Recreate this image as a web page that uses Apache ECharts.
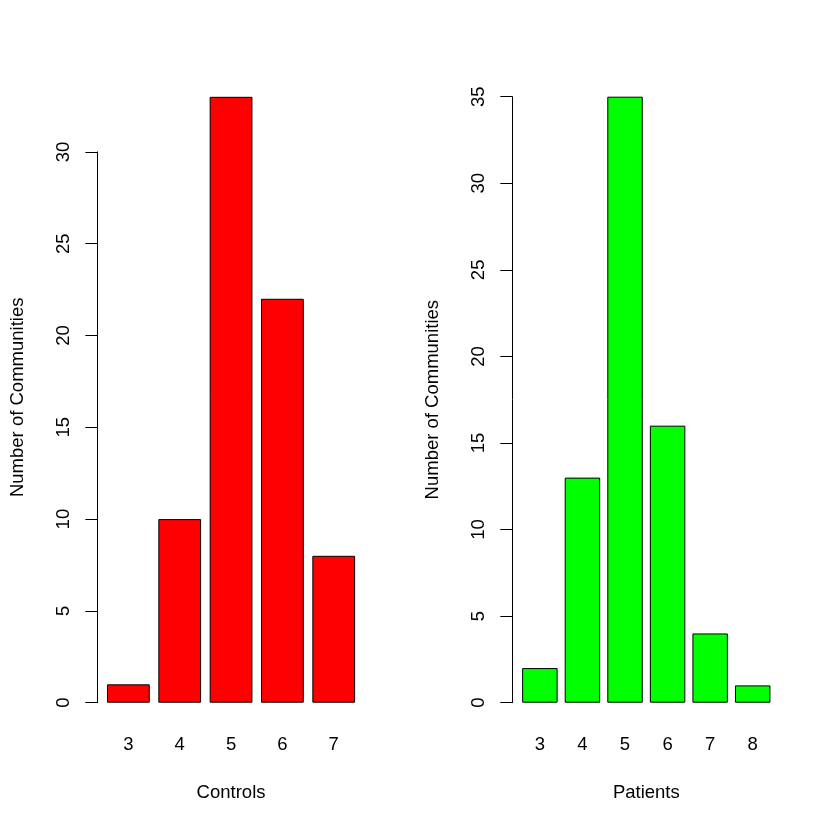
<!DOCTYPE html>
<html>
<head>
<meta charset="utf-8">
<script src="https://cdn.jsdelivr.net/npm/echarts@6/dist/echarts.min.js"></script>
<style>html,body{margin:0;padding:0;background:#fff;}#c{width:830px;height:830px;}</style>
</head>
<body>
<div id="c"></div>
<script>
const controlsCats = ['3', '4', '5', '6', '7'];
const controlsVals = [1, 10, 33, 22, 8];
const patientsCats = ['3', '4', '5', '6', '7', '8'];
const patientsVals = [2, 13, 35, 16, 4, 1];
const yTitle = 'Number of Communities';
const xTitles = ['Controls', 'Patients'];

const FONT = 'Liberation Sans, Arial, Helvetica, sans-serif';
const FS = 18.5;
const txt = { color: '#000', fontFamily: FONT, fontSize: FS };

function xAxisFor(cats, gridIndex, name) {
  return {
    type: 'category', gridIndex, data: cats, boundaryGap: true,
    axisLine: { show: false, onZero: false }, axisTick: { show: false },
    axisLabel: Object.assign({ margin: 33, interval: 0 }, txt),
    name, nameLocation: 'middle', nameGap: 81,
    nameTextStyle: Object.assign({}, txt)
  };
}
function yAxisFor(gridIndex, max, offset, namePad) {
  return {
    type: 'value', gridIndex, min: 0, max, interval: 5, offset,
    splitLine: { show: false },
    axisLine: { show: true, lineStyle: { color: '#000', width: 1 } },
    axisTick: { show: true, length: 12, lineStyle: { color: '#000', width: 1 } },
    axisLabel: Object.assign({ rotate: 90, margin: 24, showMinLabel: true, showMaxLabel: true }, txt),
    name: yTitle, nameLocation: 'middle', nameRotate: 90, nameGap: 70,
    nameTextStyle: Object.assign({ padding: namePad }, txt)
  };
}

const chart = echarts.init(document.getElementById('c'), null, { renderer: 'canvas' });
chart.setOption({
  backgroundColor: '#fff',
  animation: false,
  grid: [
    { left: 102.7, top: 151.9, width: 256.7, height: 550.8 },
    { left: 518.6, top: 96.7, width: 255.4, height: 606 }
  ],
  xAxis: [
    xAxisFor(controlsCats, 0, xTitles[0]),
    xAxisFor(patientsCats, 1, xTitles[1])
  ],
  yAxis: [
    yAxisFor(0, 30, 5.4, [0, 0, 0, 60]),
    yAxisFor(1, 35, 6.3, [0, 0, 0, 0])
  ],
  series: [
    {
      type: 'bar', xAxisIndex: 0, yAxisIndex: 0, data: controlsVals,
      barCategoryGap: '16.67%', clip: false,
      itemStyle: { color: '#FF0000', borderColor: '#000', borderWidth: 1 }
    },
    {
      type: 'bar', xAxisIndex: 1, yAxisIndex: 1, data: patientsVals,
      barCategoryGap: '16.67%', clip: false,
      itemStyle: { color: '#00FF00', borderColor: '#000', borderWidth: 1 }
    }
  ]
});
</script>
</body>
</html>
